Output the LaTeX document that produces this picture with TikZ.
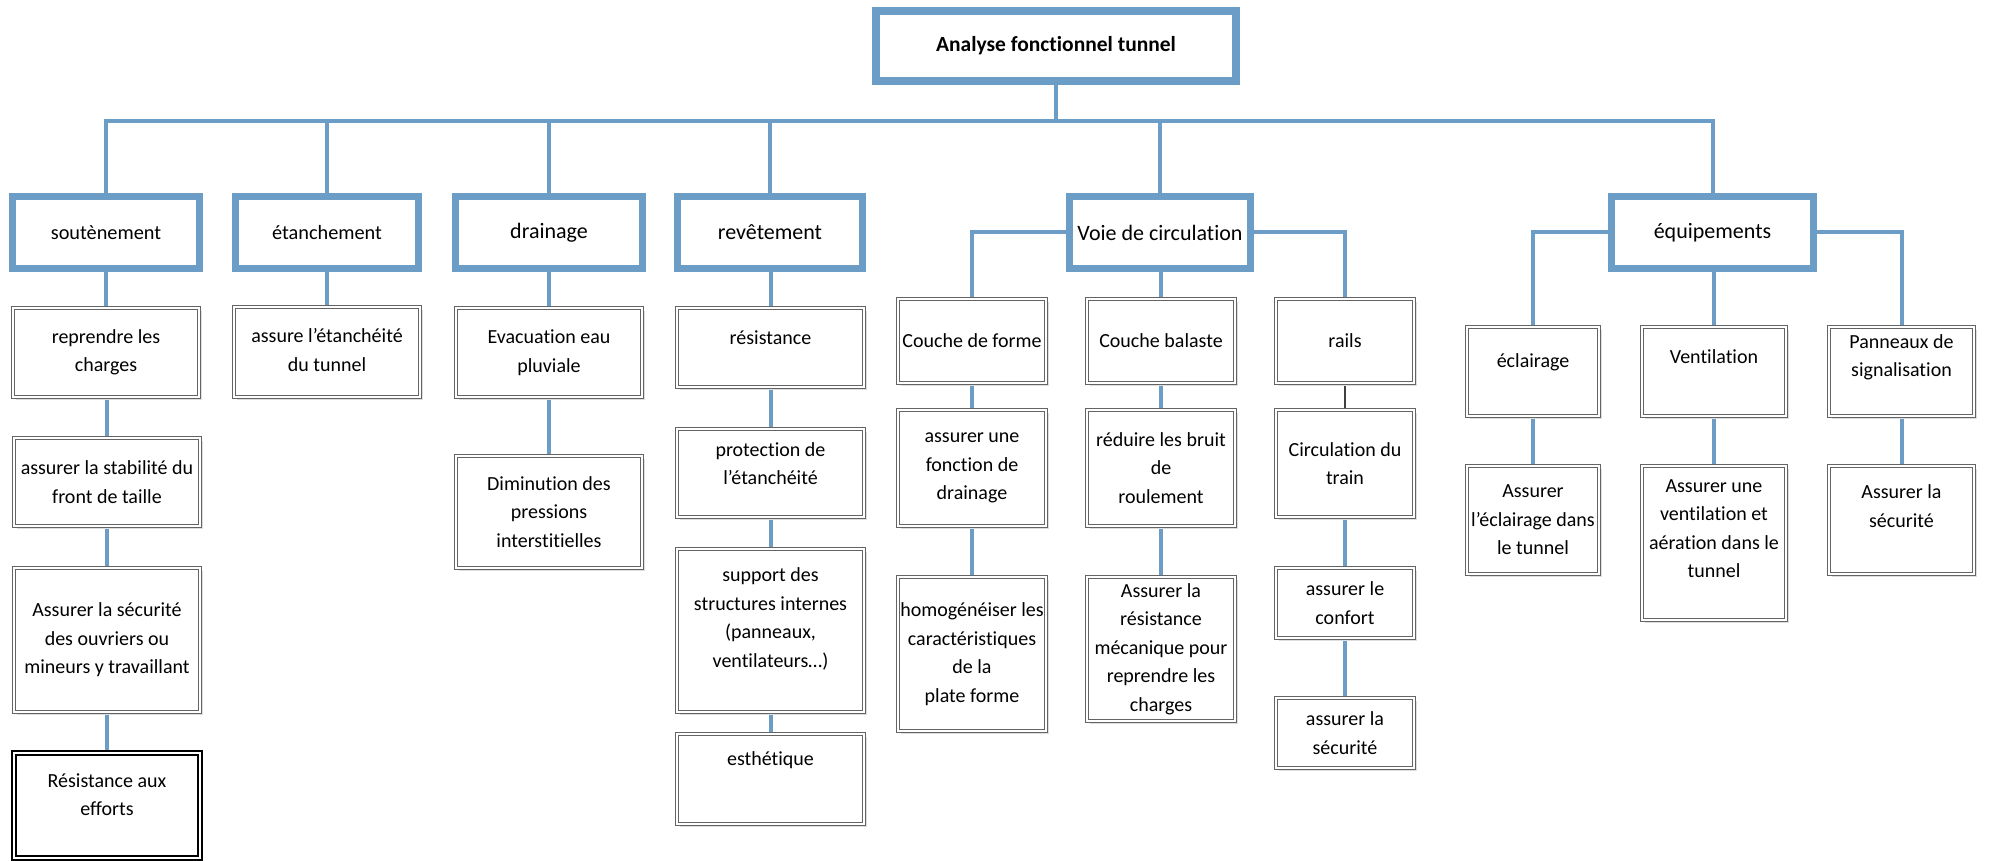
\documentclass[tikz,border=0pt]{standalone}
\usepackage{fontspec}
\setmainfont{Carlito}[Ligatures=NoCommon]
\usetikzlibrary{shadows,backgrounds}

\definecolor{linkblue}{RGB}{108,157,199}
\definecolor{framegray}{RGB}{100,100,100}

\tikzset{
  txt/.style={align=center, font=\fontsize{20}{28.5}\selectfont, inner sep=0pt},
  headtxt/.style={align=center, font=\fontsize{22}{28}\selectfont},
  softshadow/.style={drop shadow={shadow xshift=3pt, shadow yshift=-3pt, fill=black!13, opacity=1}},
  dbl/.style={draw=framegray, line width=0.9pt, double=white, double distance=2.2pt,
              fill=white, inner sep=0pt, outer sep=2pt, softshadow},
  dblstrong/.style={dbl, draw=black, line width=1.5pt, double distance=2.4pt, outer sep=2.7pt},
  headbox/.style={draw=linkblue, line width=7pt, fill=white, inner sep=0pt, outer sep=3.5pt,
                  softshadow, headtxt},
  link/.style={draw=linkblue, line width=4pt, line join=miter},
  thinlink/.style={draw=black!75, line width=1.1pt},
}

% framed box with a double outline: [style]{name}{x1}{y1}{x2}{y2}{text shift}{text}
\newcommand\dblnode[8][dbl]{%
  \node[#1, minimum width={(#5-#3-4)*1pt}, minimum height={(#6-#4-4)*1pt},
        label={[txt, yshift={-(#7)*1pt}]center:{#8}}]
        (#2) at ({(#3+#5)/2},{(#4+#6)/2}) {};}
% heading box with a thick blue outline: [font size]{name}{x1}{y1}{x2}{y2}{text}
\newcommand\headnode[7][22]{%
  \node[headbox, font=\fontsize{#1}{28}\selectfont,
        minimum width={(#5-#3-7)*1pt}, minimum height={(#6-#4-7)*1pt}]
        (#2) at ({(#3+#5)/2},{(#4+#6)/2}) {#7};}

\begin{document}
\begin{tikzpicture}[x=1pt, y=-1pt]
\useasboundingbox (0,0) rectangle (1998,861);

% ---- root ----
\node[headbox, line width=8pt, outer sep=4pt, font=\bfseries\fontsize{21.5}{26}\selectfont,
      minimum width=360pt, minimum height=70pt] (top) at (1056,46) {Analyse fonctionnel tunnel};
\coordinate (bus) at (0,121);

% ---- main functions ----
\headnode[20.3]{sout}{9}{193}{203}{272}{soutènement}
\headnode[20.3]{etan}{232}{193}{422}{272}{étanchement}
\headnode{drain}{452}{193}{646}{272}{drainage}
\headnode{revet}{674}{193}{866}{272}{revêtement}
\headnode{voie}{1066}{193}{1254}{272}{Voie de circulation}
\headnode{equip}{1608}{193}{1817}{272}{équipements}

% ---- soutènement ----
\dblnode{rep}{11}{306}{201}{399}{0}{reprendre les\\charges}
\dblnode{stab}{12}{436}{202}{528}{0}{assurer la stabilité du\\front de taille}
\dblnode{ouvr}{12}{566}{202}{714}{0}{Assurer la sécurité\\des ouvriers ou\\mineurs y travaillant}
\dblnode[dblstrong]{effo}{12}{751}{202}{860}{-11}{Résistance aux\\efforts}

% ---- étanchement ----
\dblnode{etanch}{232}{305}{422}{399}{-2}{assure l’étanchéité\\du tunnel}

% ---- drainage ----
\dblnode{evac}{454}{306}{644}{399}{0}{Evacuation eau\\pluviale}
\dblnode{dimin}{454}{454}{644}{570}{0}{Diminution des\\pressions\\interstitielles}

% ---- revêtement ----
\dblnode{resi}{675}{306}{866}{389}{-10}{résistance}
\dblnode{prot}{675}{427}{866}{519}{-9.5}{protection de\\l’étanchéité}
\dblnode{supp}{675}{547}{866}{714}{-11.5}{support des\\structures internes\\(panneaux,\\ventilateurs…)}
\dblnode{esth}{675}{732}{866}{826}{-19}{esthétique}

% ---- voie de circulation ----
\dblnode{forme}{896}{297}{1048}{385}{0}{Couche de forme}
\dblnode{bal}{1085}{297}{1237}{385}{0}{Couche balaste}
\dblnode{rails}{1274}{297}{1416}{385}{0}{rails}
\dblnode{fonct}{896}{408}{1048}{528}{0}{assurer une\\fonction de\\drainage}
\dblnode{bruit}{1085}{408}{1237}{528}{0}{réduire les bruit\\de\\roulement}
\dblnode{circ}{1274}{408}{1416}{519}{0}{Circulation du\\train}
\dblnode{homog}{896}{575}{1048}{733}{0}{homogénéiser les\\caractéristiques\\de la\\plate forme}
\dblnode{meca}{1085}{575}{1237}{723}{0}{Assurer la\\résistance\\mécanique pour\\reprendre les\\charges}
\dblnode{conf}{1274}{566}{1416}{640}{0}{assurer le\\confort}
\dblnode{secu}{1274}{696}{1416}{770}{0}{assurer la\\sécurité}

% ---- équipements ----
\dblnode{eclair}{1465}{325}{1601}{418}{-9.5}{éclairage}
\dblnode{venti}{1640}{325}{1788}{418}{-14.5}{Ventilation}
\dblnode{pann}{1827}{325}{1976}{418}{-14}{Panneaux de\\signalisation}
\dblnode{eclairB}{1465}{464}{1601}{576}{0}{Assurer\\l’éclairage dans\\le tunnel}
\dblnode{ventiB}{1640}{464}{1788}{622}{-14.5}{Assurer une\\ventilation et\\aération dans le\\tunnel}
\dblnode{pannB}{1827}{464}{1976}{576}{-14}{Assurer la\\sécurité}

% ---- connectors ----
\begin{pgfonlayer}{background}
  \draw[link] (top.south) -- (top.south |- bus);
  \draw[link] (sout.north) -- (sout.north |- bus) -- (equip.north |- bus) -- (equip.north);
  \foreach \n in {etan,drain,revet,voie}
    \draw[link] (\n.north |- bus) -- (\n.north);

  \foreach \a/\b in {sout/rep, rep/stab, stab/ouvr, ouvr/effo, etan/etanch,
                     drain/evac, evac/dimin, revet/resi, resi/prot, prot/supp, supp/esth,
                     voie/bal, forme/fonct, fonct/homog, bal/bruit, bruit/meca,
                     circ/conf, conf/secu, eclair/eclairB, venti/ventiB, pann/pannB}
    \draw[link] (\b.north |- \a.south) -- (\b.north);
  \draw[thinlink] (circ.north |- rails.south) -- (circ.north);

  \draw[link] (voie.west) -| (forme.north);
  \draw[link] (voie.east) -| (rails.north);
  \draw[link] (equip.west) -| (eclair.north);
  \draw[link] (venti.north |- equip.south) -- (venti.north);
  \draw[link] (equip.east) -| (pann.north);
\end{pgfonlayer}
\end{tikzpicture}
\end{document}
